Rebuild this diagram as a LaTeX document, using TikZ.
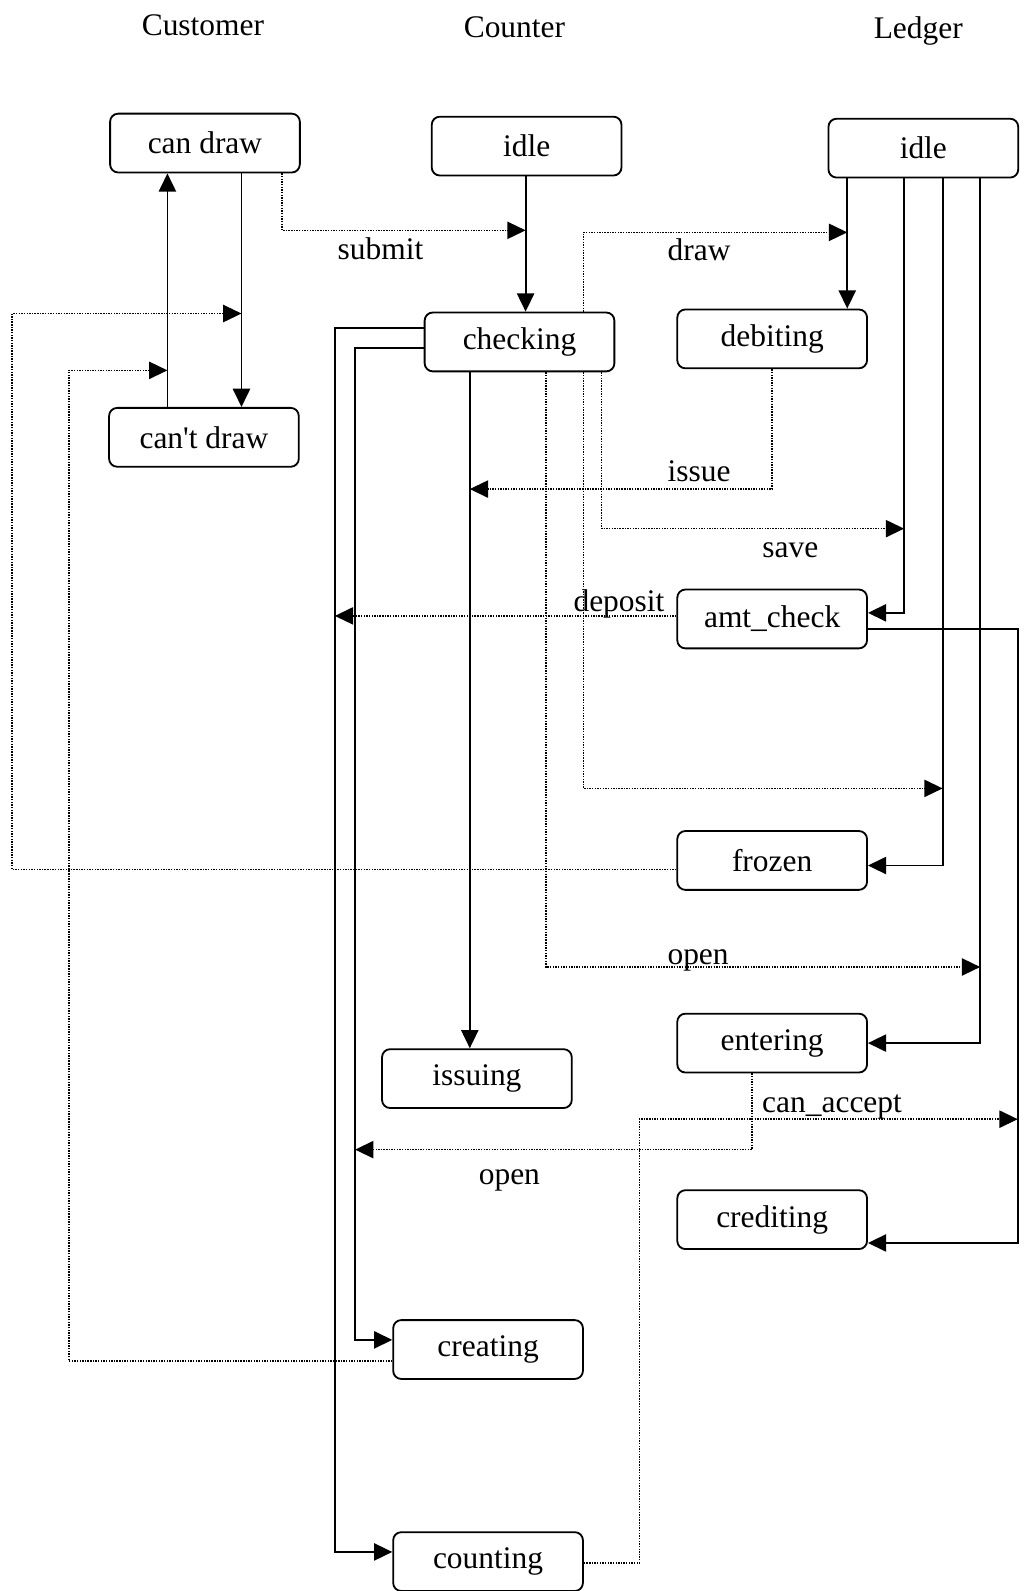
\documentclass[tikz,border=0pt]{standalone}
\usepackage{fontspec}
\newfontfamily\dgserif{Liberation Serif}
\usetikzlibrary{arrows.meta}
\newcommand{\dgfont}{\dgserif\fontsize{31}{35}\selectfont}
\begin{document}
\begin{tikzpicture}[x=1pt,y=-1pt,
  box/.style={draw, line width=1.8pt, rounded corners=8pt, minimum width=187pt,
    minimum height=58pt, inner sep=0pt, font=\dgfont},
  trans/.style={line width=1.8pt, -{Triangle[length=18pt,width=17pt]}},
  event/.style={line width=1.4pt, dash pattern=on 1.4pt off 1.2pt,
    -{Triangle[length=18pt,width=17pt]}},
  lbl/.style={inner sep=0pt, font=\dgfont, anchor=base}]
\useasboundingbox (0,0) rectangle (1012,1568);

% titles
\node[lbl] (tcus) at (200,35) {Customer};
\node[lbl] (tcou) at (507,37) {Counter};
\node[lbl] (tled) at (905,38) {Ledger};

% states
\node[box] (cd)  at (202,141)  {can draw};
\node[box] (cnd) at (201,431)  {can't draw};
\node[box] (cid) at (519,144)  {idle};
\node[box] (chk) at (512,337)  {checking};
\node[box] (iss) at (470,1063) {issuing};
\node[box] (crt) at (481,1330) {creating};
\node[box] (cnt) at (481,1539) {counting};
\node[box] (lid) at (910,146)  {idle};
\node[box] (deb) at (761,334)  {debiting};
\node[box] (amt) at (761,610)  {amt\_check};
\node[box] (frz) at (761,848)  {frozen};
\node[box] (ent) at (761,1028) {entering};
\node[box] (crd) at (761,1202) {crediting};

% lane x positions
\coordinate (x12) at (12,0);
\coordinate (x68) at (68,0);
\coordinate (x165) at (165,0);
\coordinate (x238) at (238,0);
\coordinate (x278) at (278,0);
\coordinate (x330) at (330,0);
\coordinate (x350) at (350,0);
\coordinate (x463) at (463,0);
\coordinate (x518) at (518,0);
\coordinate (x538) at (538,0);
\coordinate (x575) at (575,0);
\coordinate (x593) at (593,0);
\coordinate (x630) at (630,0);
\coordinate (x741) at (741,0);
\coordinate (x761) at (761,0);
\coordinate (x835) at (835,0);
\coordinate (x891) at (891,0);
\coordinate (x929) at (929,0);
\coordinate (x966) at (966,0);
\coordinate (x1003) at (1003,0);

% points where events meet transitions
\coordinate (eSubmit) at (518,227);
\coordinate (eDraw) at (835,229);
\coordinate (eIssue) at (463,482);
\coordinate (eSave) at (891,521);
\coordinate (eFreeze) at (929,777);
\coordinate (eOpen) at (966,953);
\coordinate (eDeposit) at (330,607);
\coordinate (eFrozen) at (238,309);
\coordinate (eCreate) at (165,365);
\coordinate (eOpenB) at (350,1133);
\coordinate (eAccept) at (1003,1103);

% port coordinates
\coordinate (amtIn) at ([yshift=6pt]amt.east);
\coordinate (amtOut) at ([yshift=-10pt]amt.east);
\coordinate (frzIn) at ([yshift=-5pt]frz.east);
\coordinate (crdIn) at ([yshift=-23pt]crd.east);
\coordinate (chkW1) at ([yshift=14pt]chk.west);
\coordinate (chkW2) at ([yshift=-6pt]chk.west);
\coordinate (crtIn) at ([yshift=9.5pt]crt.west);
\coordinate (cntIn) at ([yshift=9.5pt]cnt.west);
\coordinate (frzOut) at ([yshift=-9pt]frz.west);
\coordinate (crtOut) at ([yshift=-11.5pt]crt.west);
\coordinate (cntOut) at ([yshift=-1.5pt]cnt.east);

% transitions
\draw[trans] (x165 |- cnd.north) -- (x165 |- cd.south);
\draw[trans] (x238 |- cd.south) -- (x238 |- cnd.north);
\draw[trans] (x518 |- cid.south) -- (x518 |- chk.north);
\draw[trans] (x835 |- lid.south) -- (x835 |- deb.north);
\draw[trans] (x891 |- lid.south) |- (amtIn);
\draw[trans] (x929 |- lid.south) |- (frzIn);
\draw[trans] (x966 |- lid.south) |- (ent.east);
\draw[trans] (amtOut) -| (x1003 |- crdIn) -- (crdIn);
\draw[trans] (x463 |- chk.south) -- (x463 |- iss.north);
\draw[trans] (chkW2) -| (x350 |- crtIn) -- (crtIn);
\draw[trans] (chkW1) -| (x330 |- cntIn) -- (cntIn);

% events
\draw[event] (x278 |- cd.south) |- (eSubmit);
\draw[event] (x575 |- chk.north) |- (eDraw);
\draw[event] (x761 |- deb.south) |- (eIssue);
\draw[event] (x593 |- chk.south) |- (eSave);
\draw[event] (x575 |- chk.south) |- (eFreeze);
\draw[event] (x538 |- chk.south) |- (eOpen);
\draw[event] (amt.west |- eDeposit) -- (eDeposit);
\draw[event] (frzOut) -| (x12 |- eFrozen) -- (eFrozen);
\draw[event] (crtOut) -| (x68 |- eCreate) -- (eCreate);
\draw[event] (x741 |- ent.south) |- (eOpenB);
\draw[event] (cntOut) -| (x630 |- eAccept) -- (eAccept);

% labels
\node[lbl] (lsubmit) at (375,256) {submit};
\node[lbl] (ldraw) at (689,257) {draw};
\node[lbl] (lissue) at (689,475) {issue};
\node[lbl] (lsave) at (779,549) {save};
\node[lbl] (ldeposit) at (610,603) {deposit};
\node[lbl] (lopen) at (688,951) {open};
\node[lbl] (laccept) at (820,1096) {can\_accept};
\node[lbl] (lopenb) at (502,1167) {open};
\end{tikzpicture}
\end{document}
